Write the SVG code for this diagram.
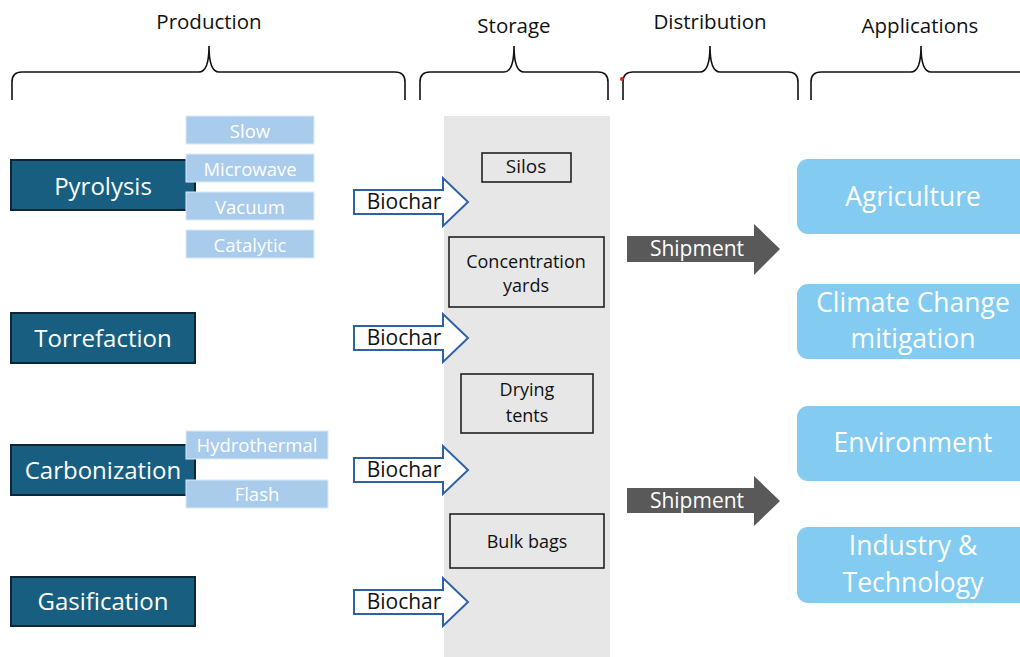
<svg xmlns="http://www.w3.org/2000/svg" width="1020" height="657" viewBox="0 0 1020 657">
<style>
text{font-family:"Open Sans","Liberation Sans",sans-serif;text-anchor:middle;dominant-baseline:central}
.hdr{font-size:20.5px;fill:#111}
.brace{fill:none;stroke:#111;stroke-width:1.6}
.main{fill:#185E80;stroke:#0C2836;stroke-width:2}
.mainT{font-size:24px;fill:#fff}
.sub{fill:#A9CBEC;stroke:#DDEAF7;stroke-width:1}
.subT{font-size:18.5px;fill:#fff}
.store{fill:none;stroke:#222;stroke-width:1.6}
.storeT{font-size:18px;fill:#111}
.bio{fill:#fff;stroke:#2E62A4;stroke-width:2;stroke-linejoin:miter}
.bioT{font-size:21px;fill:#111}
.ship{fill:#595959}
.shipT{font-size:21px;fill:#fff}
.app{fill:#83CBF1}
.appT{font-size:26.5px;fill:#fff}
</style>
<rect width="1020" height="657" fill="#fff"/>
<g id="headers">
<text class="hdr" x="209" y="21">Production</text>
<text class="hdr" x="514" y="25">Storage</text>
<text class="hdr" x="710" y="21">Distribution</text>
<text class="hdr" x="920" y="25">Applications</text>
<path class="brace" d="M12,100 L12,82 Q12,72 22,72 L199,72 Q209,72 209,46 Q209,72 219,72 L395,72 Q405,72 405,82 L405,100"/>
<path class="brace" d="M420,100 L420,82 Q420,72 430,72 L504,72 Q514,72 514,46 Q514,72 524,72 L598,72 Q608,72 608,82 L608,100"/>
<path class="brace" d="M623,100 L623,82 Q623,72 633,72 L700,72 Q710,72 710,46 Q710,72 720,72 L788,72 Q798,72 798,82 L798,100"/>
<path class="brace" d="M811,100 L811,82 Q811,72 821,72 L911,72 Q921,72 921,46 Q921,72 931,72 L1030,72"/>
<circle cx="622" cy="79" r="2" fill="#E02020"/>
</g>
<g id="storage-panel"><rect x="444" y="116" width="166" height="541" fill="#E7E7E7"/></g>
<g id="pyrolysis">
<rect class="main" x="11" y="160" width="184" height="50"/>
<text class="mainT" x="103" y="185">Pyrolysis</text>
</g>
<g id="slow"><rect class="sub" x="186" y="116" width="128" height="28"/><text class="subT" x="250" y="130">Slow</text></g>
<g id="microwave"><rect class="sub" x="186" y="154" width="128" height="28"/><text class="subT" x="250" y="168">Microwave</text></g>
<g id="vacuum"><rect class="sub" x="186" y="192" width="128" height="28"/><text class="subT" x="250" y="206">Vacuum</text></g>
<g id="catalytic"><rect class="sub" x="186" y="230" width="128" height="28"/><text class="subT" x="250" y="244">Catalytic</text></g>
<g id="torrefaction">
<rect class="main" x="11" y="313" width="184" height="50"/>
<text class="mainT" x="103" y="337">Torrefaction</text>
</g>
<g id="carbonization">
<rect class="main" x="11" y="445" width="184" height="50"/>
<text class="mainT" x="103" y="469">Carbonization</text>
</g>
<g id="hydrothermal"><rect class="sub" x="186" y="431" width="142" height="28"/><text class="subT" x="257" y="444">Hydrothermal</text></g>
<g id="flash"><rect class="sub" x="186" y="480" width="142" height="28"/><text class="subT" x="257" y="493">Flash</text></g>
<g id="gasification">
<rect class="main" x="11" y="577" width="184" height="49"/>
<text class="mainT" x="103" y="600">Gasification</text>
</g>
<g id="silos"><rect class="store" x="482" y="153" width="89" height="29"/><text class="storeT" x="526" y="166" style="font-size:19px">Silos</text></g>
<g id="concentration-yards"><rect class="store" x="449" y="237" width="155" height="70"/><text class="storeT" x="526" y="261">Concentration</text><text class="storeT" x="526" y="285">yards</text></g>
<g id="drying-tents"><rect class="store" x="461" y="374" width="132" height="59"/><text class="storeT" x="527" y="389">Drying</text><text class="storeT" x="527" y="415">tents</text></g>
<g id="bulk-bags"><rect class="store" x="450" y="514" width="154" height="54"/><text class="storeT" x="527" y="541">Bulk bags</text></g>
<g id="agriculture"><rect class="app" x="797" y="159" width="250" height="75" rx="11"/><text class="appT" x="913" y="196">Agriculture</text></g>
<g id="climate"><rect class="app" x="797" y="284" width="250" height="75" rx="11"/><text class="appT" x="913" y="302">Climate Change</text><text class="appT" x="913" y="338">mitigation</text></g>
<g id="environment"><rect class="app" x="797" y="406" width="250" height="75" rx="11"/><text class="appT" x="913" y="442">Environment</text></g>
<g id="industry"><rect class="app" x="797" y="527" width="250" height="76" rx="11"/><text class="appT" x="913" y="545">Industry &amp;</text><text class="appT" x="913" y="582">Technology</text></g>
<g id="connectors">
<g><path class="bio" d="M354,190 L443,190 L443,178 L468,202 L443,226 L443,214 L354,214 Z"/><text class="bioT" x="404" y="201">Biochar</text></g>
<g><path class="bio" d="M354,326 L443,326 L443,314 L468,338 L443,362 L443,350 L354,350 Z"/><text class="bioT" x="404" y="337">Biochar</text></g>
<g><path class="bio" d="M354,458 L443,458 L443,446 L468,470 L443,494 L443,482 L354,482 Z"/><text class="bioT" x="404" y="469">Biochar</text></g>
<g><path class="bio" d="M354,590 L443,590 L443,578 L468,602 L443,626 L443,614 L354,614 Z"/><text class="bioT" x="404" y="601">Biochar</text></g>
<g><path class="ship" d="M627,236 L754,236 L754,224 L780,249 L754,275 L754,262 L627,262 Z"/><text class="shipT" x="697" y="248">Shipment</text></g>
<g><path class="ship" d="M627,488 L754,488 L754,476 L780,501 L754,526 L754,513 L627,513 Z"/><text class="shipT" x="697" y="500">Shipment</text></g>
</g>
</svg>
